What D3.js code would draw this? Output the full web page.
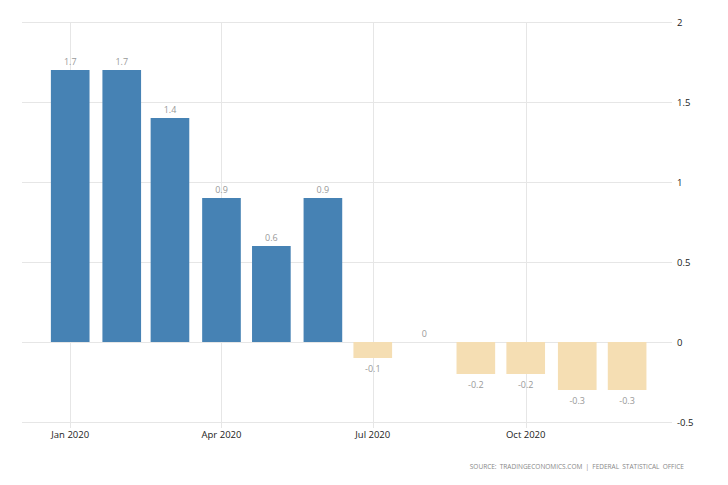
<!DOCTYPE html>
<html>
<head>
<meta charset="utf-8">
<script src="https://cdn.jsdelivr.net/npm/d3@7"></script>
<style>
  body { margin: 0; background: #fff; }
  svg { display: block; font-family: "Open Sans", sans-serif; }
</style>
</head>
<body>
<svg id="chart" width="728" height="485"></svg>
<script>
// Monthly values, 2020
const months = ["2020-01", "2020-02", "2020-03", "2020-04", "2020-05", "2020-06",
  "2020-07", "2020-08", "2020-09", "2020-10", "2020-11", "2020-12"];
const values = [1.7, 1.7, 1.4, 0.9, 0.6, 0.9, -0.1, 0, -0.2, -0.2, -0.3, -0.3];
const yTicks = [-0.5, 0, 0.5, 1, 1.5, 2];
const xTicks = ["2020-01", "2020-04", "2020-07", "2020-10"];

const parseMonth = d3.timeParse("%Y-%m");
const data = months.map((m, i) => ({ date: parseMonth(m), value: values[i] }));

const svg = d3.select("#chart");
const plot = { left: 22, right: 672, top: 22, bottom: 422 };

const x = d3.scaleTime()
  .domain([new Date(2019, 11, 3), new Date(2020, 11, 28)])
  .range([plot.left, plot.right]);

const y = d3.scaleLinear()
  .domain([-0.5, 2])
  .range([plot.bottom, plot.top]);

const barWidth = (x(new Date(2020, 1, 1)) - x(new Date(2020, 0, 1))) * 0.75;

// Grid lines
svg.append("g")
  .selectAll("line")
  .data(yTicks)
  .join("line")
  .attr("x1", plot.left)
  .attr("x2", plot.right)
  .attr("y1", (d) => Math.round(y(d)) + 0.5)
  .attr("y2", (d) => Math.round(y(d)) + 0.5)
  .attr("stroke", "#e6e6e6");

svg.append("g")
  .selectAll("line")
  .data(xTicks.map(parseMonth))
  .join("line")
  .attr("x1", (d) => Math.round(x(d)) + 0.5)
  .attr("x2", (d) => Math.round(x(d)) + 0.5)
  .attr("y1", plot.top)
  .attr("y2", plot.bottom + 6)
  .attr("stroke", "#e6e6e6");

// Bars
svg.append("g")
  .selectAll("rect")
  .data(data)
  .join("rect")
  .attr("x", (d) => x(d.date) - barWidth / 2)
  .attr("y", (d) => y(Math.max(0, d.value)))
  .attr("width", barWidth)
  .attr("height", (d) => Math.abs(y(d.value) - y(0)))
  .attr("fill", (d) => (d.value > 0 ? "#4682b4" : "#f5deb3"));

// Value labels
svg.append("g")
  .selectAll("text")
  .data(data)
  .join("text")
  .attr("x", (d) => x(d.date))
  .attr("y", (d) => (d.value >= 0 ? y(d.value) - 5 : y(d.value) + 14))
  .attr("text-anchor", "middle")
  .style("font-size", "9px")
  .style("fill", "#999")
  .text((d) => String(d.value));

// Right axis labels
svg.append("g")
  .selectAll("text")
  .data(yTicks)
  .join("text")
  .attr("x", 677)
  .attr("y", (d) => y(d) + 4)
  .style("font-size", "9.5px")
  .style("fill", "#222")
  .text((d) => String(d));

// Bottom axis labels
svg.append("g")
  .selectAll("text")
  .data(xTicks.map(parseMonth))
  .join("text")
  .attr("x", (d) => x(d))
  .attr("y", 438)
  .attr("text-anchor", "middle")
  .style("font-size", "9.5px")
  .style("fill", "#222")
  .text(d3.timeFormat("%b %Y"));

// Source
svg.append("text")
  .attr("x", 684)
  .attr("y", 469)
  .attr("text-anchor", "end")
  .style("font-size", "6.5px")
  .style("word-spacing", "1.5px")
  .style("fill", "#888")
  .text("SOURCE: TRADINGECONOMICS.COM | FEDERAL STATISTICAL OFFICE");
</script>
</body>
</html>
